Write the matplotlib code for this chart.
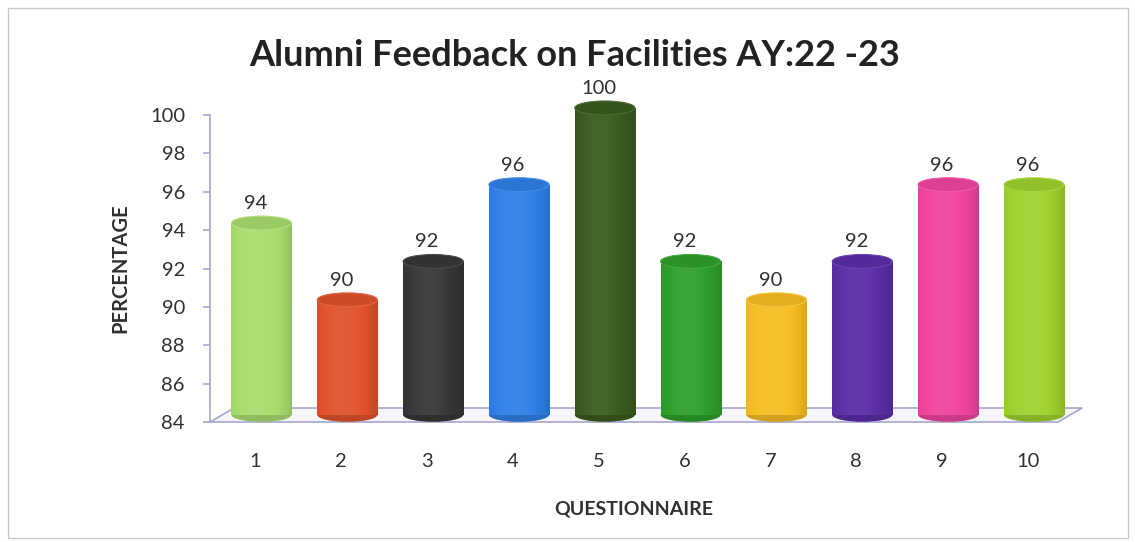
import numpy as np
import matplotlib
matplotlib.use("Agg")
import matplotlib.pyplot as plt
from matplotlib.patches import Ellipse, Polygon, Rectangle
from matplotlib.colors import to_rgb

# data
questions = ["1", "2", "3", "4", "5", "6", "7", "8", "9", "10"]
percentages = [94, 90, 92, 96, 100, 92, 90, 92, 96, 96]
bar_colors = ["#a9dc6e", "#e0522c", "#363636", "#2f7fe6", "#3b5a1e",
              "#2f9f2c", "#f7bd22", "#5a2ea6", "#f0449e", "#9fd12e"]

plt.rcParams['font.family'] = ['Lato', 'DejaVu Sans']

fig = plt.figure(figsize=(11.35, 5.42), dpi=100)
ax = fig.add_axes([210/1135, 1-422/542, 848/1135, 307/542])

ymin, ymax = 84, 100
ax.set_ylim(ymin, ymax)
ax.set_xlim(0.47, 10.35)

xs = np.arange(1, len(questions) + 1)

# 3d-ish geometry in data units
depth_dx = 0.28      # floor goes back to the right
depth_dy = 0.73      # and up
mid_dx = 0.07        # bars sit half way back
mid_dy = 0.37
bar_w = 0.70
cap_h = 0.72

# floor
floor = Polygon([(0.47, ymin), (10.35, ymin), (10.35 + depth_dx, ymin + depth_dy),
                 (0.47 + depth_dx, ymin + depth_dy)], closed=True,
                facecolor="#f6f6fa", edgecolor="#a6a6d2", lw=1.2, clip_on=False, zorder=1)
ax.add_patch(floor)


def shade(c, f):
    r, g, b = to_rgb(c)
    if f >= 0:
        return (r + (1 - r) * f, g + (1 - g) * f, b + (1 - b) * f)
    return (r * (1 + f), g * (1 + f), b * (1 + f))


for i, (x, v, c) in enumerate(zip(xs, percentages, bar_colors)):
    cx = x + mid_dx
    y0 = ymin + mid_dy
    y1 = v + mid_dy
    # bottom cap
    ax.add_patch(Ellipse((cx, y0), bar_w, cap_h, facecolor=shade(c, -0.15),
                         edgecolor="none", zorder=2, clip_on=False))
    # body with soft horizontal gradient
    body = Rectangle((cx - bar_w/2, y0), bar_w, y1 - y0, facecolor="none",
                     edgecolor="none", zorder=2)
    ax.add_patch(body)
    t = np.linspace(0, 1, 60)
    prof = 0.06 - 0.55 * np.abs(t - 0.42) ** 2
    grad = np.array([[shade(c, max(min(p, 0.3), -0.4)) for p in prof]])
    im = ax.imshow(grad, extent=(cx - bar_w/2, cx + bar_w/2, y0, y1),
                   aspect="auto", zorder=2, interpolation="bilinear")
    im.set_clip_path(body)
    # top cap
    ax.add_patch(Ellipse((cx, y1), bar_w, cap_h, facecolor=shade(c, -0.08),
                         edgecolor=shade(c, 0.1), lw=0.8, zorder=3, clip_on=False))
    ax.annotate(str(v), (x, y1 + cap_h/2), xytext=(0, 3), textcoords="offset points",
                ha="center", va="bottom", fontsize=14.5, color="#303030",
                annotation_clip=False, zorder=4)

ax.set_xlim(0.47, 10.35)
ax.set_ylim(ymin, ymax)

for s in ["top", "right", "bottom"]:
    ax.spines[s].set_visible(False)
ax.spines["left"].set_color("#a6a6d2")
ax.spines["left"].set_linewidth(1.2)

ax.set_yticks(np.arange(84, 101, 2))
ax.tick_params(axis="y", colors="#a6a6d2", length=5, width=1.2, labelsize=14.5,
               labelcolor="#303030", pad=13)
ax.set_xticks(xs)
ax.set_xticklabels(questions)
ax.tick_params(axis="x", length=0, labelsize=14.5, labelcolor="#303030", pad=22)

ax.set_ylabel("PERCENTAGE", fontsize=14.5, fontweight="bold", color="#303030", labelpad=14)
ax.set_xlabel("QUESTIONNAIRE", fontsize=14, fontweight="bold", color="#303030", labelpad=22)

fig.text(575/1135, 1-55/542, "Alumni Feedback on Facilities AY:22 -23", ha="center",
         va="center", fontsize=26, fontweight="bold", color="#222222")

# chart frame
fig.patches.append(Rectangle((8/1135, 4/542), 1120/1135, 530/542, transform=fig.transFigure,
                             fill=False, edgecolor="#c8c8c8", lw=1.0))

fig.savefig("out.png", dpi=100, facecolor="white")
